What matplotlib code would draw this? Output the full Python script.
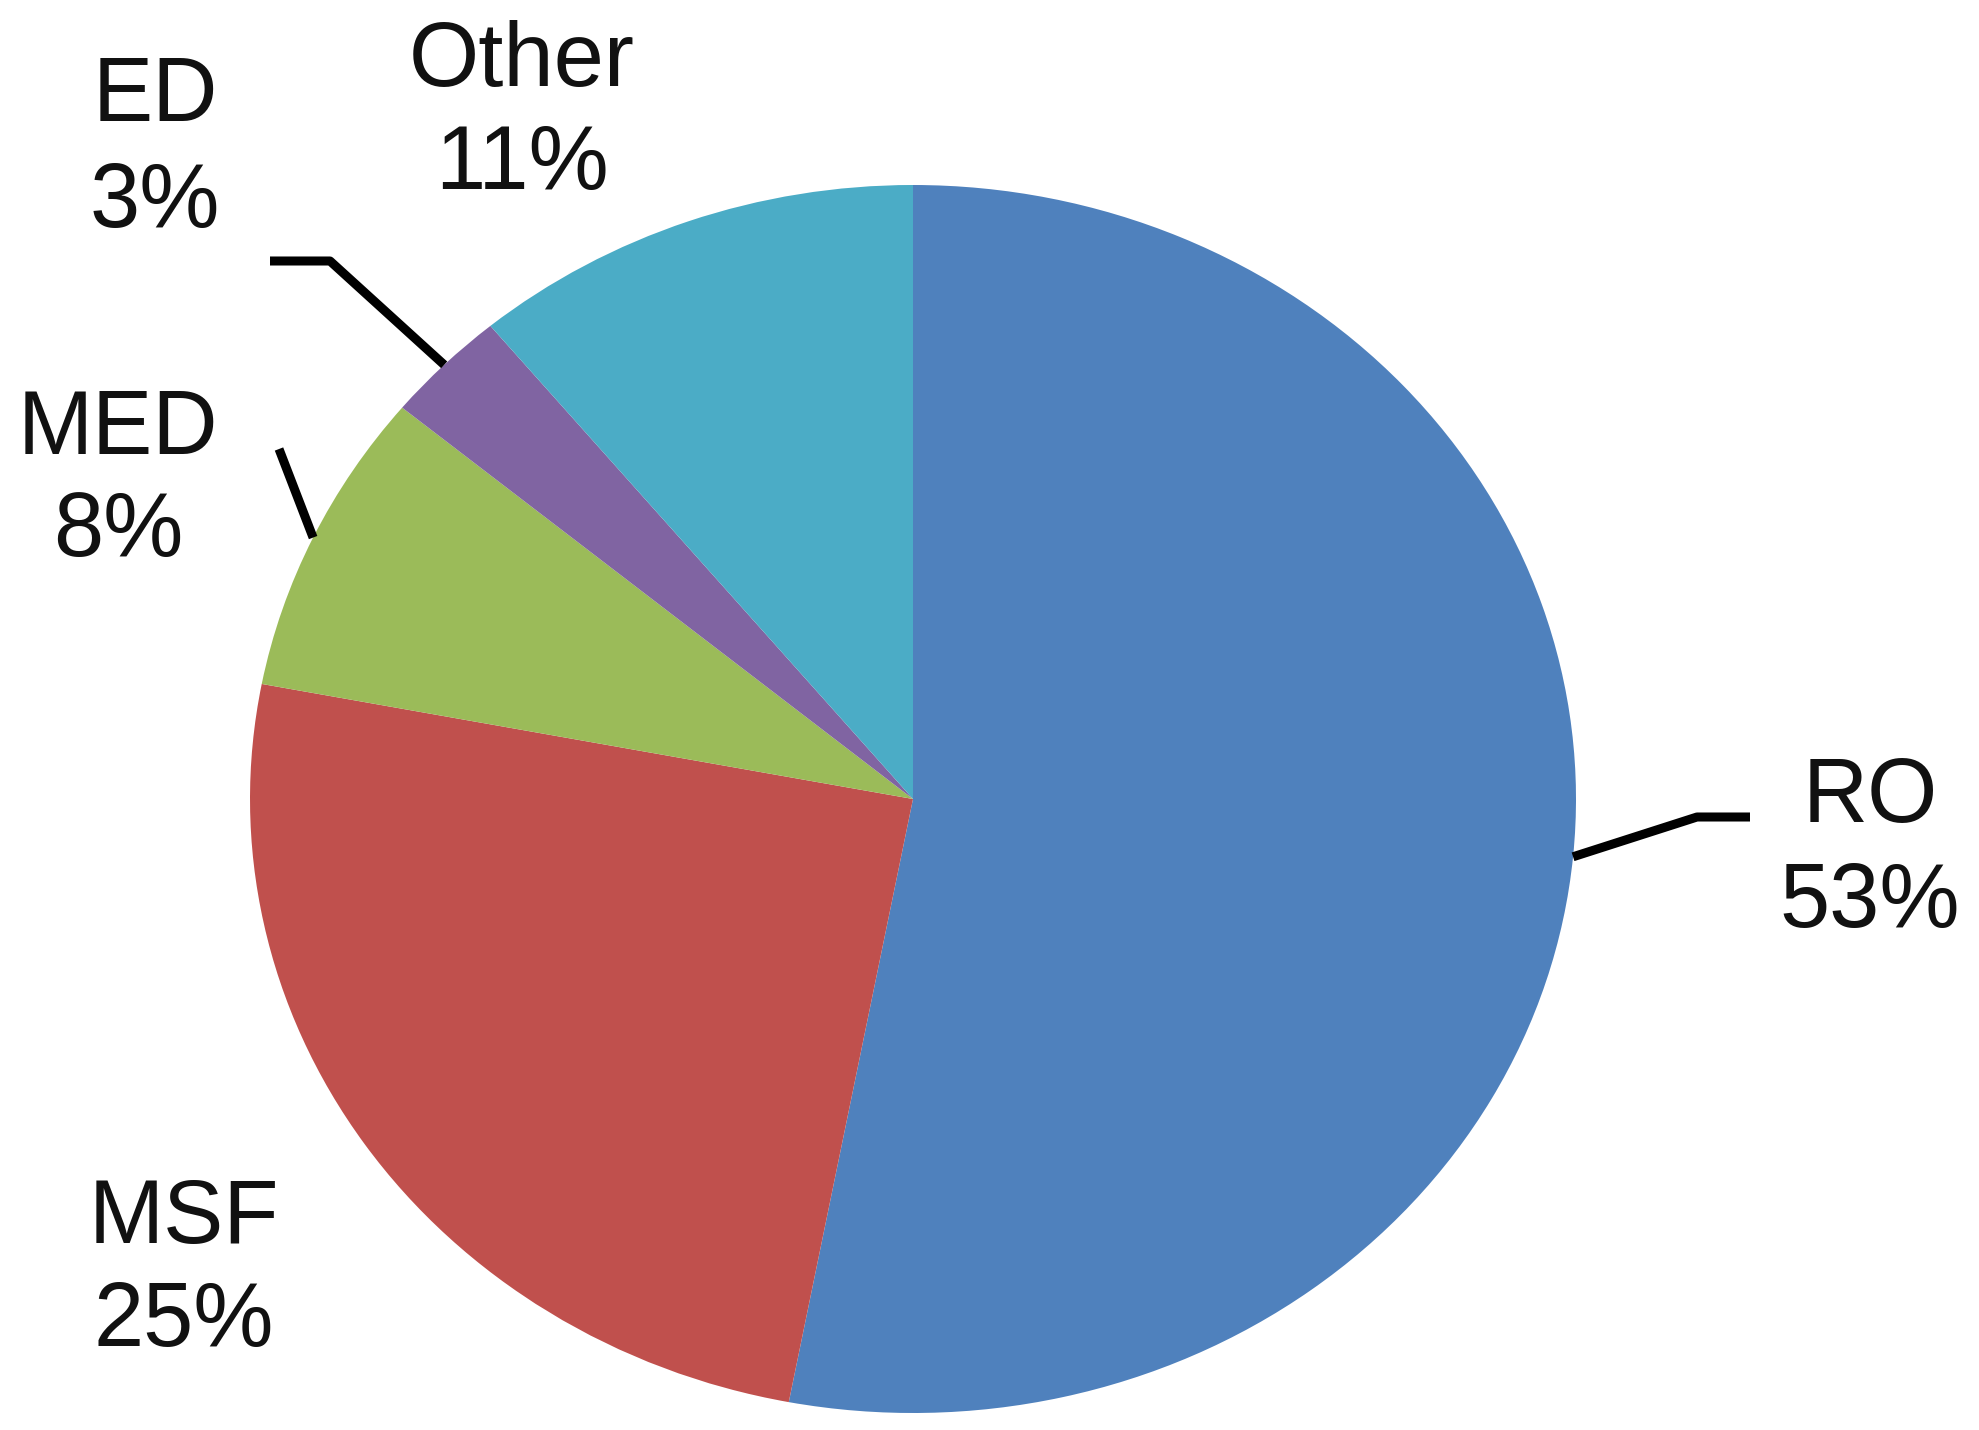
import matplotlib.pyplot as plt
import numpy as np

# data
labels = ["RO", "MSF", "MED", "ED", "Other"]
shares = [53, 25, 8, 3, 11]
colors = ["#4F81BD", "#C0504D", "#9BBB59", "#8064A2", "#4BACC6"]

# layout, in pixels of the 1979x1430 output
W, H = 1979, 1430
CX, CY, RX, RY = 913, 799, 663, 614

# label centre x, name baseline y, percent baseline y
label_pos = {
    "RO": (1870, 822, 927),
    "MSF": (184, 1243, 1346),
    "MED": (118, 454, 556),
    "ED": (155, 121, 227),
    "Other": (522, 86, 189),
}
# leader line points after the wedge edge point
leader_pts = {
    "RO": [(1697, 817), (1750, 817)],
    "MED": [(279, 449)],
    "ED": [(330, 261), (270, 261)],
}


def px(x, y):
    return (x - CX) / RX, (CY - y) / RY


plt.rcParams["font.family"] = ["Liberation Sans", "DejaVu Sans"]

fig = plt.figure(figsize=(W / 100, H / 100), dpi=100)
ax = fig.add_axes([0, 0, 1, 1])

wedges, _ = ax.pie(
    shares,
    colors=colors,
    startangle=90,
    counterclock=False,
    radius=1,
    center=(0, 0),
    wedgeprops=dict(linewidth=0, antialiased=True),
)
ax.set_aspect("auto")
ax.set_xlim(-CX / RX, (W - CX) / RX)
ax.set_ylim((CY - H) / RY, CY / RY)
ax.axis("off")

for w, name, pct in zip(wedges, labels, shares):
    x, y1, y2 = label_pos[name]
    ax.text(*px(x, y1), name, ha="center", va="baseline", fontsize=65, color="#111111")
    ax.text(*px(x, y2), f"{pct}%", ha="center", va="baseline", fontsize=65, color="#111111")
    if name in leader_pts:
        mid = np.deg2rad((w.theta1 + w.theta2) / 2)
        xs = [np.cos(mid)] + [px(*p)[0] for p in leader_pts[name]]
        ys = [np.sin(mid)] + [px(*p)[1] for p in leader_pts[name]]
        ax.plot(xs, ys, color="black", linewidth=6.5, solid_capstyle="butt")

fig.savefig("out.png", dpi=100)
plt.close(fig)
